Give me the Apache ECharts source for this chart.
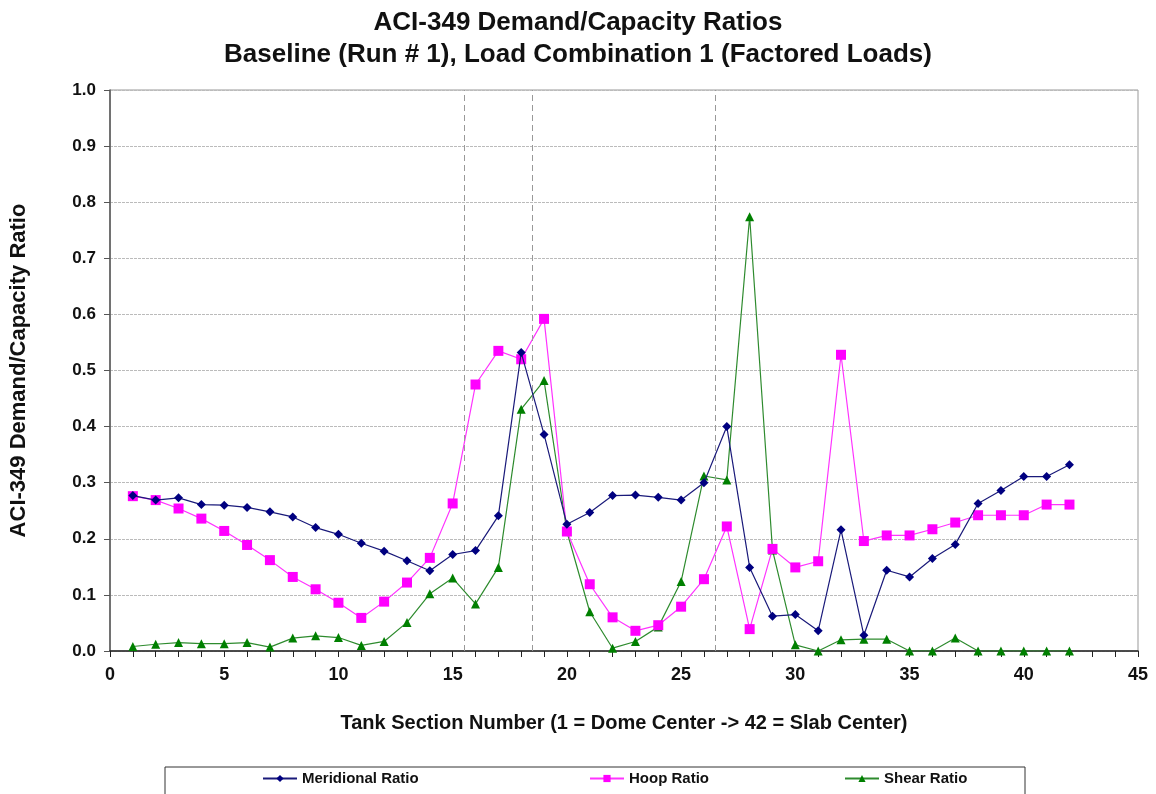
<!DOCTYPE html>
<html>
<head>
<meta charset="utf-8">
<script src="https://cdn.jsdelivr.net/npm/echarts@6/dist/echarts.min.js"></script>
<style>html,body{margin:0;padding:0;background:#fff}#c{width:1156px;height:794px}</style>
</head>
<body>
<div id="c"></div>
<script>
const sections = [1,2,3,4,5,6,7,8,9,10,11,12,13,14,15,16,17,18,19,20,21,22,23,24,25,26,27,28,29,30,31,32,33,34,35,36,37,38,39,40,41,42];
const meridional = [0.277,0.269,0.273,0.261,0.260,0.256,0.248,0.239,0.220,0.208,0.192,0.178,0.161,0.143,0.172,0.179,0.241,0.532,0.386,0.226,0.247,0.277,0.278,0.274,0.269,0.300,0.400,0.149,0.062,0.065,0.036,0.216,0.028,0.144,0.132,0.165,0.190,0.263,0.286,0.311,0.311,0.332];
const hoop = [0.276,0.269,0.254,0.236,0.214,0.189,0.162,0.132,0.110,0.086,0.059,0.088,0.122,0.166,0.263,0.475,0.535,0.520,0.592,0.213,0.119,0.060,0.036,0.046,0.079,0.128,0.222,0.039,0.182,0.149,0.160,0.528,0.196,0.206,0.206,0.217,0.229,0.242,0.242,0.242,0.261,0.261];
const shear = [0.008,0.012,0.015,0.013,0.013,0.015,0.007,0.023,0.027,0.024,0.010,0.017,0.051,0.102,0.130,0.084,0.149,0.431,0.482,0.213,0.070,0.005,0.017,0.043,0.124,0.312,0.305,0.774,0.180,0.011,0.000,0.020,0.021,0.021,0.000,0.000,0.023,0.000,0.000,0.000,0.000,0.000];
const dividers = [15.5, 18.5, 26.5];
const seriesNames = ['Meridional Ratio','Hoop Ratio','Shear Ratio'];
const titleLines = ['ACI-349 Demand/Capacity Ratios','Baseline (Run # 1), Load Combination 1 (Factored Loads)'];
const xName = 'Tank Section Number (1 = Dome Center -> 42 = Slab Center)';
const yName = 'ACI-349 Demand/Capacity Ratio';

const pairs = arr => sections.map((s,i)=>[s,arr[i]]);
const font = 'Liberation Sans, Arial, sans-serif';
const legendLefts = [262, 589, 844];
const chart = echarts.init(document.getElementById('c'), null, {renderer:'canvas'});
chart.setOption({
  animation:false,
  backgroundColor:'#fff',
  title:{
    text: titleLines.join('\n'),
    left:'center', top:2,
    textStyle:{fontFamily:font,fontWeight:'bold',fontSize:26,lineHeight:32,color:'#111'}
  },
  graphic:[{type:'rect',shape:{x:165,y:767,width:860,height:40},
    style:{fill:'none',stroke:'#333',lineWidth:1},silent:true}],
  grid:{left:108,right:18,top:90,bottom:143,show:true,borderColor:'#999',borderWidth:1,backgroundColor:'transparent'},
  legend: seriesNames.map((n,i)=>({
    data:[n],
    left:legendLefts[i],top:771,
    itemWidth:34,itemHeight:9,padding:0,
    textStyle:{fontFamily:font,fontWeight:'bold',fontSize:15,color:'#111'}
  })),
  xAxis:{
    type:'value',min:0,max:45,interval:5,
    name:xName,nameLocation:'middle',nameGap:62,
    nameTextStyle:{fontFamily:font,fontWeight:'bold',fontSize:20,color:'#111'},
    axisLine:{onZero:false,lineStyle:{color:'#222',width:1.5}},
    axisTick:{show:true,length:6,lineStyle:{color:'#222'}},
    minorTick:{show:true,splitNumber:5,length:6,lineStyle:{color:'#222'}},
    splitLine:{show:false},
    axisLabel:{fontFamily:font,fontWeight:'bold',fontSize:18,color:'#111',margin:15}
  },
  yAxis:{
    type:'value',min:0,max:1,interval:0.1,
    name:yName,nameLocation:'middle',nameGap:80,
    nameTextStyle:{fontFamily:font,fontWeight:'bold',fontSize:22,color:'#111'},
    axisLine:{show:true,lineStyle:{color:'#555',width:1.5}},
    axisTick:{show:true,length:6,lineStyle:{color:'#555'}},
    splitLine:{show:true,lineStyle:{color:'#bbb',type:[3,1],width:1}},
    axisLabel:{fontFamily:font,fontWeight:'bold',fontSize:17,color:'#111',margin:14,formatter:v=>v.toFixed(1)}
  },
  series:[
    {name:seriesNames[0],type:'line',data:pairs(meridional),symbol:'diamond',symbolSize:9,
     itemStyle:{color:'#000080'},lineStyle:{color:'#1a1a7a',width:1.2},z:5,
     markLine:{silent:true,symbol:'none',label:{show:false},
       lineStyle:{color:'#999',type:[6,4],width:1},
       data:dividers.map(d=>({xAxis:d}))}},
    {name:seriesNames[1],type:'line',data:pairs(hoop),symbol:'rect',symbolSize:10,
     itemStyle:{color:'#ff00ff'},lineStyle:{color:'#ff33ff',width:1.2},z:4},
    {name:seriesNames[2],type:'line',data:pairs(shear),symbol:'triangle',symbolSize:9,
     itemStyle:{color:'#008000'},lineStyle:{color:'#2e8b2e',width:1.2},z:3}
  ]
});
</script>
</body>
</html>
